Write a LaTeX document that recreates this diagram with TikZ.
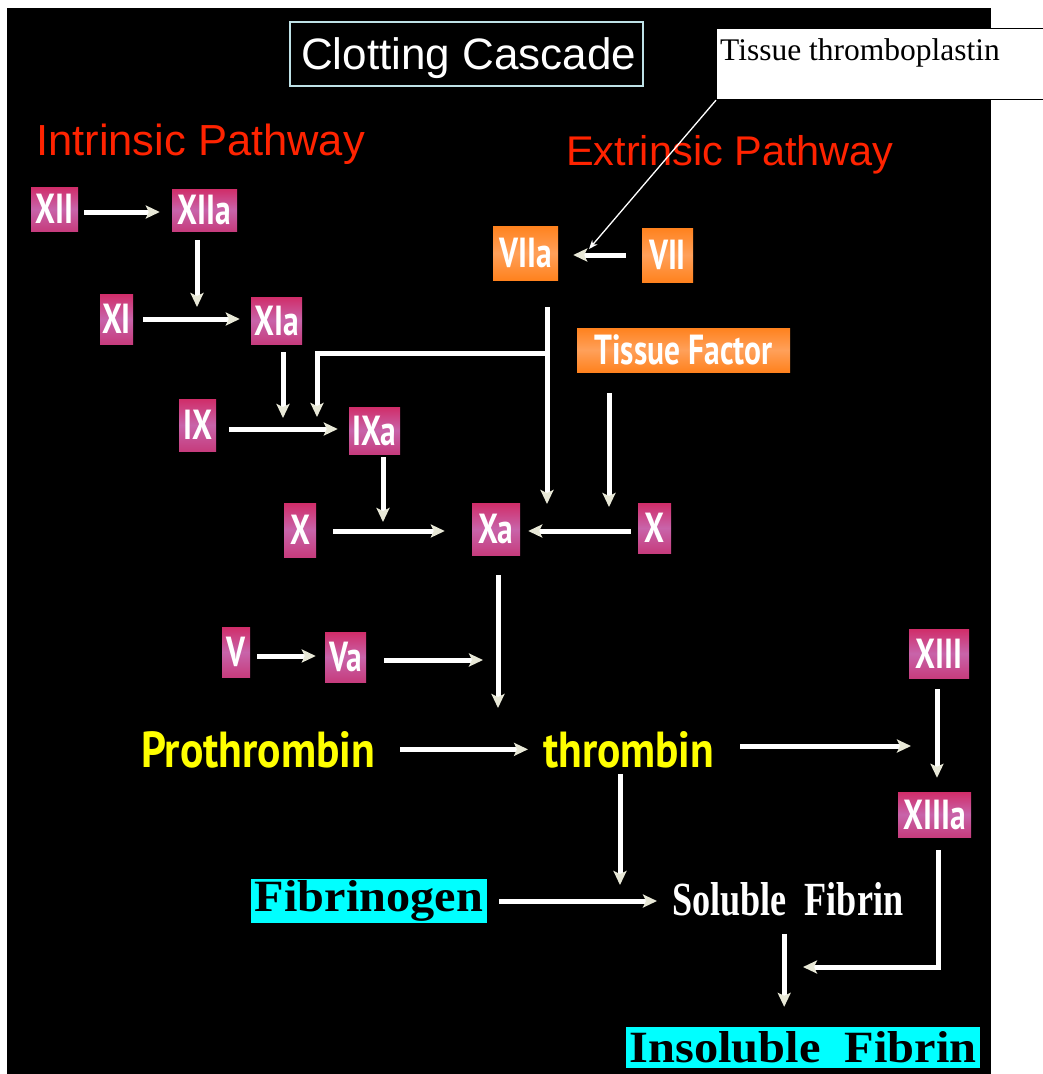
\documentclass[tikz,border=0pt]{standalone}
\usepackage{fontspec}
\usepackage{graphicx}
\setmainfont{Liberation Serif}
\newfontfamily\arialf{Liberation Sans}
\newfontfamily\facf[FakeStretch=0.75]{PT Sans}
\newfontfamily\ptsans{PT Sans}
\usetikzlibrary{arrows.meta}
\definecolor{magT}{RGB}{208,45,105}
\definecolor{magM}{RGB}{200,100,170}
\definecolor{magB}{RGB}{198,60,125}
\definecolor{orgT}{RGB}{255,130,30}
\definecolor{orgM}{RGB}{255,160,90}
\definecolor{redtxt}{RGB}{255,35,0}
\definecolor{yel}{RGB}{255,255,0}
\definecolor{cyn}{RGB}{0,255,255}
\definecolor{tip}{RGB}{232,232,215}
\definecolor{titleline}{RGB}{190,225,230}
\tikzset{
  fac/.style={rectangle, inner sep=0pt, top color=magT, bottom color=magB, middle color=magM,
    text=white, font=\facf\bfseries\fontsize{42pt}{42pt}\selectfont},
  orng/.style={rectangle, inner sep=0pt, top color=orgT, bottom color=orgT, middle color=orgM,
    text=white, font=\facf\bfseries\fontsize{42pt}{42pt}\selectfont},
  arr/.style={draw=white, line width=5pt, line join=miter,
    -{Stealth[length=14pt,width=13pt,inset=3pt,fill=tip,color=tip]}},
  thinarr/.style={draw=white, line width=1.3pt, -{Stealth[length=9pt,width=7pt]}},
  cyanbox/.style={rectangle, inner sep=0pt, fill=cyn, text=black},
  txt/.style={inner sep=0pt, anchor=base west}
}
\begin{document}
\begin{tikzpicture}[x=1pt,y=-1pt]
\useasboundingbox (0,0) rectangle (1043,1074);
\fill[white] (0,0) rectangle (1043,1074);
\fill[black] (7,8) rectangle (991,1074);

% title
\node[draw=titleline, line width=2pt, minimum width=353pt, minimum height=64pt, inner sep=0pt] (title) at (466.5,54) {};
\node[txt, text=white, font=\arialf\fontsize{44pt}{44pt}\selectfont] (titletxt) at (301,69) {Clotting Cascade};

% callout
\node[draw=black, fill=white, line width=1.2pt, minimum width=340pt, minimum height=71pt, inner sep=0pt, anchor=north west] (tt) at (716,28) {};
\node[txt, text=black, font=\fontsize{31.5pt}{31.5pt}\selectfont] (tttxt) at (720,60) {Tissue thromboplastin};

% headings
\node[txt, text=redtxt, font=\arialf\fontsize{43.5pt}{43.5pt}\selectfont] (intr) at (36,155) {Intrinsic Pathway};
\node[txt, text=redtxt, font=\arialf\fontsize{41.5pt}{41.5pt}\selectfont] (extr) at (566,165) {Extrinsic Pathway};

% factor boxes
\node[fac, minimum width=47pt, minimum height=44pt] (XII) at (54.5,209) {XII};
\node[fac, minimum width=65pt, minimum height=42pt] (XIIa) at (204.5,210) {XIIa};
\node[fac, minimum width=33pt, minimum height=50pt] (XI) at (116.5,319) {XI};
\node[fac, minimum width=51pt, minimum height=47pt] (XIa) at (276.5,320.5) {XIa};
\node[fac, minimum width=37pt, minimum height=52pt] (IX) at (197.5,425) {IX};
\node[fac, minimum width=51pt, minimum height=47pt] (IXa) at (374.5,430.5) {IXa};
\node[fac, minimum width=32pt, minimum height=54pt] (X1) at (300,530) {X};
\node[fac, minimum width=48pt, minimum height=52pt] (Xa) at (496,529) {Xa};
\node[fac, minimum width=33pt, minimum height=50pt] (X2) at (654.5,528) {X};
\node[fac, minimum width=28pt, minimum height=50pt] (V) at (236,652) {V};
\node[fac, minimum width=41pt, minimum height=50pt] (Va) at (345.5,657) {Va};
\node[fac, minimum width=60pt, minimum height=49pt] (XIII) at (939,653.5) {XIII};
\node[fac, minimum width=73pt, minimum height=45pt] (XIIIa) at (934.5,814.5) {XIIIa};
\node[orng, minimum width=65pt, minimum height=54pt] (VIIa) at (525.5,253) {VIIa};
\node[orng, minimum width=51pt, minimum height=54pt] (VII) at (667.5,255) {VII};
\node[orng, minimum width=213pt, minimum height=44pt] (TF) at (683.5,350) {Tissue Factor};

% yellow / white / cyan texts
\node[txt, text=yel, font=\ptsans\bfseries] (pro) at (141,767) {\resizebox{234pt}{36pt}{Prothrombin}};
\node[txt, text=yel, font=\ptsans\bfseries] (thr) at (543,767) {\resizebox{171pt}{36pt}{thrombin}};
\node[txt, text=white, font=\bfseries] (sol) at (672,915) {\resizebox{231pt}{33pt}{Soluble\ \ Fibrin}};
\node[cyanbox, minimum width=236pt, minimum height=44pt, font=\bfseries] (fib) at (369,901) {\resizebox{228pt}{31pt}{Fibrinogen}};
\node[cyanbox, minimum width=354pt, minimum height=41pt, font=\bfseries] (ins) at (803,1047.5) {\resizebox{347pt}{31pt}{Insoluble\ \ Fibrin}};

% free ends
\coordinate (t1) at (197,307);
\coordinate (t2) at (283,418);
\coordinate (j1) at (547,353);
\coordinate (t3) at (317,417);
\coordinate (t4) at (547,504);
\coordinate (t5) at (383,522);
\coordinate (t6) at (609,507);
\coordinate (t7) at (498,708);
\coordinate (t8) at (483,660);
\coordinate (t9) at (911,746);
\coordinate (t10) at (620,885);
\coordinate (k1) at (938,967);
\coordinate (t11) at (803,967);
\coordinate (tc) at (589,249);

% connectors
\draw[arr, shorten <=6pt, shorten >=12pt] ([yshift=-3pt]XII.east) -- ([yshift=-3pt]XII.east -| XIIa.west);
\draw[arr, shorten <=9pt] (XIIa.south -| t1) -- (t1);
\draw[arr, shorten <=10pt, shorten >=11pt] (XI.east) -- (XI.east -| XIa.west);
\draw[arr, shorten <=8pt] (XIa.south -| t2) -- (t2);
\draw[arr, shorten <=13pt, shorten >=11pt] ([yshift=-4pt]IX.east) -- ([yshift=-4pt]IX.east -| IXa.west);
\draw[arr, shorten <=27pt] (VIIa.south -| j1) -- (t4);
\draw[arr] (j1) -- (j1 -| t3) -- (t3);
\draw[arr, shorten <=3pt] (IXa.south -| t5) -- (t5);
\draw[arr, shorten <=17pt, shorten >=27pt] ([yshift=-1pt]X1.east) -- ([yshift=-1pt]X1.east -| Xa.west);
\draw[arr, shorten <=21pt] (TF.south -| t6) -- (t6);
\draw[arr, shorten <=7pt, shorten >=8pt] ([yshift=-3pt]X2.west) -- ([yshift=-3pt]X2.west -| Xa.east);
\draw[arr, shorten <=20pt] (Xa.south -| t7) -- (t7);
\draw[arr, shorten <=7pt, shorten >=9pt] ([yshift=-4pt]V.east) -- ([yshift=-4pt]V.east -| Va.west);
\draw[arr, shorten <=18pt] ([yshift=-3pt]Va.east) -- (t8);
\draw[arr, shorten <=25pt, shorten >=15pt] (pro.east) -- (pro.east -| thr.west);
\draw[arr, shorten <=26pt] (thr.east |- t9) -- (t9);
\draw[arr, shorten <=11pt, shorten >=14pt] ([xshift=-2pt]XIII.south) -- ([xshift=-2pt]XIII.south |- XIIIa.north);
\draw[arr, shorten <=6pt] (thr.south -| t10) -- (t10);
\draw[arr, shorten <=12pt, shorten >=15pt] (fib.east) -- (fib.east -| sol.west);
\draw[arr, shorten <=13pt] ([xshift=3.5pt]XIIIa.south) -- (k1) -- (t11);
\draw[arr, shorten <=18pt, shorten >=20pt] ([xshift=-3.5pt]sol.south) -- ([xshift=-3.5pt]sol.south |- ins.north);
\draw[arr, shorten <=16pt, shorten >=15pt] (VII.west) -- (VII.west -| VIIa.east);
\draw[thinarr] (tt.south west) -- (tc);
\end{tikzpicture}
\end{document}
